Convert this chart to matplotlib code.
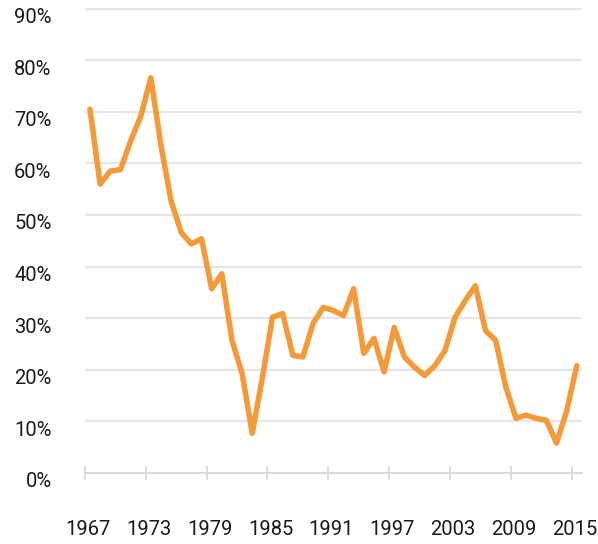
import matplotlib
matplotlib.use('Agg')
import matplotlib.pyplot as plt
import matplotlib.transforms as mtransforms

years = list(range(1967, 2016))
values = [70.5, 56.0, 58.5, 58.8, 64.3, 69.1, 76.6, 63.5, 52.7, 46.6,
          44.4, 45.4, 35.7, 38.6, 25.7, 19.3, 7.7, 18.5, 30.2, 30.9,
          22.8, 22.5, 29.0, 32.1, 31.5, 30.5, 35.7, 23.2, 26.1, 19.6,
          28.2, 22.5, 20.5, 18.9, 20.8, 23.7, 30.2, 33.4, 36.3, 27.6,
          25.7, 16.7, 10.6, 11.2, 10.6, 10.2, 5.8, 12.0, 20.8]
label_years = [1967, 1973, 1979, 1985, 1991, 1997, 2003, 2009, 2015]
y_ticks = [0, 10, 20, 30, 40, 50, 60, 70, 80, 90]
y_labels = [f"{v}%" for v in y_ticks]

FONT = ['Roboto', 'DejaVu Sans']

fig = plt.figure(figsize=(5.98, 5.44), dpi=100)
ax = fig.add_axes([0.142, 0.1305, 0.831, 0.8565])

ax.plot(years, values, color='#F39A3B', lw=4.0, solid_joinstyle='round',
        solid_capstyle='round', zorder=3)

ax.set_ylim(0, 90.3)
ax.set_xlim(1966.6, 2015.5)
ax.set_yticks(y_ticks)
ax.set_yticklabels(y_labels, fontfamily=FONT, fontsize=14.5, color='#1a1a1a')
ax.yaxis.grid(True, color='#E6E6E6', lw=1.6)
ax.set_axisbelow(True)
ax.tick_params(axis='y', length=0, pad=24)
offset = mtransforms.ScaledTranslation(0, -5 / 72, fig.dpi_scale_trans)
for lab in ax.get_yticklabels():
    lab.set_transform(lab.get_transform() + offset)

ax.set_xticks([y - 0.2 for y in label_years])
ax.set_xticklabels([str(y) for y in label_years], fontfamily=FONT, fontsize=14.5,
                   color='#1a1a1a')
ax.set_xticks([y - 0.5 for y in label_years], minor=True)
ax.tick_params(axis='x', which='major', length=0, pad=34)
ax.tick_params(axis='x', which='minor', length=10, direction='inout',
               color='#D5D5D5', width=1.2)

for s in ['top', 'right', 'left']:
    ax.spines[s].set_visible(False)
ax.spines['bottom'].set_color('#D9D9D9')
ax.spines['bottom'].set_linewidth(1.4)

fig.savefig('out.png', dpi=100, facecolor='white')
